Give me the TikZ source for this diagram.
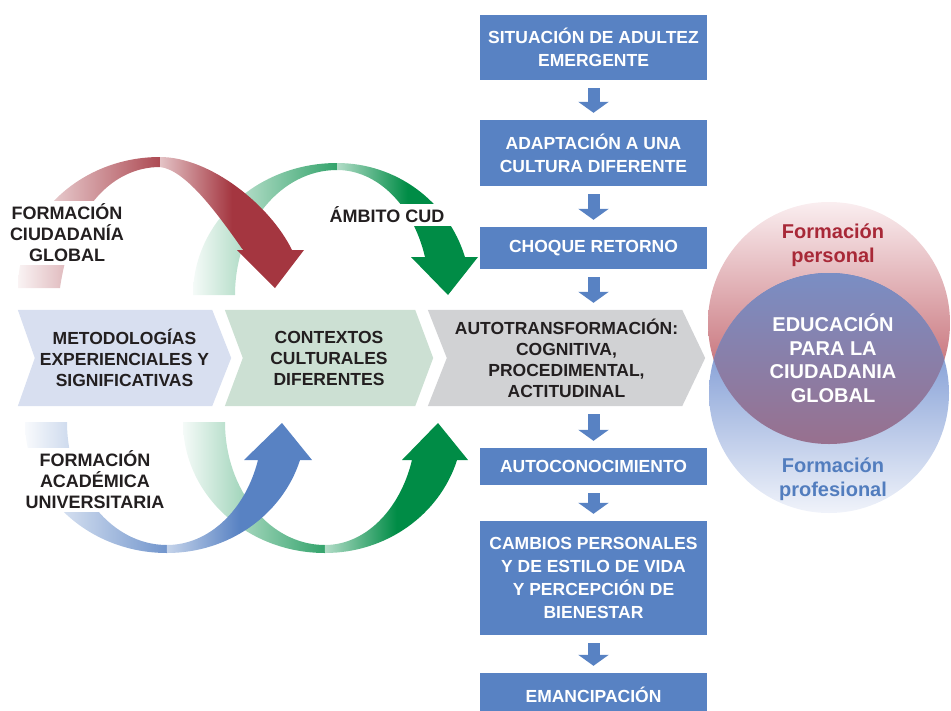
\documentclass[tikz,border=0pt]{standalone}
\usepackage{fontspec}
\setmainfont{Liberation Sans}
\usetikzlibrary{arrows.meta, backgrounds}

\begin{document}
\begin{tikzpicture}[x=1pt,y=-1pt,
  stepbox/.style={fill=boxBlue, text=white, inner sep=0pt, align=center, minimum width=227pt, font=\fontsize{17.5}{23}\selectfont\bfseries},
  chevbox/.style={inner sep=0pt, align=center, minimum height=96pt, text=inkColor, font=\fontsize{17.5}{21}\selectfont\bfseries},
  sidelabel/.style={fill=white, inner sep=3pt, align=center, text=inkColor, font=\fontsize{18}{21}\selectfont\bfseries},
  flowarrow/.style={draw=boxBlue, line width=12pt, -{Triangle[width=30pt,length=11pt]}, shorten <=8pt, shorten >=7pt},
  circlelabel/.style={inner sep=0pt, align=center, font=\fontsize{20}{23.5}\selectfont\bfseries}]
\definecolor{boxBlue}{RGB}{88,130,195}
\definecolor{arcRed}{RGB}{164,54,64}
\definecolor{arcGreen}{RGB}{0,140,70}
\definecolor{arcBlue}{RGB}{88,130,195}
\definecolor{chevBlue}{RGB}{216,223,240}
\definecolor{chevGreen}{RGB}{204,224,211}
\definecolor{chevGrey}{RGB}{209,210,212}
\definecolor{inkColor}{RGB}{35,31,32}
\definecolor{persRed}{RGB}{168,40,55}
\definecolor{profBlue}{RGB}{82,125,190}
\definecolor{persTop}{RGB}{250,238,240}
\definecolor{persBottom}{RGB}{178,62,72}
\definecolor{profTop}{RGB}{83,121,198}
\definecolor{profBottom}{RGB}{240,243,250}
\definecolor{lensTop}{RGB}{122,142,196}
\definecolor{lensBottom}{RGB}{152,112,142}

\useasboundingbox (0,0) rectangle (951,710);

\path[top color=persTop, bottom color=persBottom] (829,323) circle[radius=121];
\path[top color=profTop, bottom color=profBottom] (829,393) circle[radius=120];
\begin{scope}
\clip (829,323) circle[radius=121];
\clip (829,393) circle[radius=120];
\path[top color=lensTop, bottom color=lensBottom] (700,273) rectangle (951,444);
\end{scope}
\node[circlelabel, text=persRed] (pers) at (833,245) {Formación\\personal};
\node[circlelabel, text=white] (edu) at (833,358) {EDUCACIÓN\\PARA LA\\CIUDADANIA\\GLOBAL};
\node[circlelabel, text=profBlue] (prof) at (833,479) {Formación\\profesional};

\path[left color=arcGreen!4, right color=arcGreen!80] (193,295) arc[start angle=180, end angle=270, x radius=144, y radius=132] --
	(337,170) arc[start angle=270, end angle=180, x radius=102, y radius=125] -- cycle;
\path[left color=arcGreen!30, right color=arcGreen, middle color=arcGreen] (337,163) arc[start angle=270, end angle=343.3, x radius=133.6, y radius=132] --
	(478,257) --
	(448,295) --
	(411,257) --
	(425,257) arc[start angle=342.3, end angle=270, x radius=92.3, y radius=125] -- cycle;

\path[left color=arcRed!6, right color=arcRed!90] (18,288) arc[start angle=180, end angle=270, x radius=142, y radius=131] --
	(160,167) .. controls (115,167) and (72,205) .. (60,288) -- cycle;
\path[left color=arcRed!30, right color=arcRed, middle color=arcRed] (160,157) .. controls (210,157) and (270,205) .. (292,250) --
	(304,250) --
	(275,288) --
	(237,250) --
	(243,250) .. controls (215,210) and (185,170) .. (160,167) -- cycle;

\node[sidelabel] (ciud) at (67,233) {FORMACIÓN\\CIUDADANÍA\\GLOBAL};
\node[sidelabel, minimum width=150pt] (ambito) at (387,215) {ÁMBITO CUD};

\path[left color=arcGreen!4, right color=arcGreen!80] (183,422) arc[start angle=180, end angle=90, x radius=142, y radius=131] --
	(325,545) arc[start angle=90, end angle=180, x radius=100, y radius=123] -- cycle;
\path[left color=arcGreen!30, right color=arcGreen, middle color=arcGreen] (325,553) arc[start angle=90, end angle=16.9, x radius=138, y radius=131] --
	(468,460) --
	(438,423) --
	(402,460) --
	(412,460) arc[start angle=18, end angle=90, x radius=91.5, y radius=123] -- cycle;

\path[left color=arcBlue!4, right color=arcBlue!85] (25,422) arc[start angle=180, end angle=90, x radius=142, y radius=131] --
	(167,545) arc[start angle=90, end angle=180, x radius=100, y radius=123] -- cycle;
\path[left color=arcBlue!35, right color=arcBlue, middle color=arcBlue] (167,553) arc[start angle=90, end angle=16.9, x radius=139, y radius=131] --
	(312,460) --
	(282,423) --
	(244,460) --
	(258,460) arc[start angle=18, end angle=90, x radius=95.7, y radius=123] -- cycle;

\node[sidelabel] (acad) at (95,480) {FORMACIÓN\\ACADÉMICA\\UNIVERSITARIA};

\node[chevbox, minimum width=213pt] (metod) at (124.5,358) {METODOLOGÍAS\\EXPERIENCIALES Y\\SIGNIFICATIVAS};
\node[chevbox, minimum width=208pt] (contx) at (329,358) {CONTEXTOS\\CULTURALES\\DIFERENTES};
\node[chevbox, minimum width=277pt] (auto) at (566.5,358) {AUTOTRANSFORMACIÓN:\\COGNITIVA,\\PROCEDIMENTAL,\\ACTITUDINAL};
\begin{scope}[on background layer]
\path[fill=chevBlue] (metod.north west) -- ([xshift=-19pt]metod.north east) -- (metod.east) --
	([xshift=-19pt]metod.south east) -- (metod.south west) -- ([xshift=17pt]metod.west) -- cycle;
\path[fill=chevGreen] (contx.north west) -- ([xshift=-18pt]contx.north east) -- (contx.east) --
	([xshift=-18pt]contx.south east) -- (contx.south west) -- ([xshift=18pt]contx.west) -- cycle;
\path[fill=chevGrey] (auto.north west) -- ([xshift=-23pt]auto.north east) -- (auto.east) --
	([xshift=-23pt]auto.south east) -- (auto.south west) -- ([xshift=19pt]auto.west) -- cycle;
\end{scope}

\node[stepbox, minimum height=65pt] (sit) at (593.5,47.5) {SITUACIÓN DE ADULTEZ\\EMERGENTE};
\node[stepbox, minimum height=66pt] (adapt) at (593.5,153) {ADAPTACIÓN A UNA\\CULTURA DIFERENTE};
\node[stepbox, minimum height=42pt] (choque) at (593.5,248) {CHOQUE RETORNO};
\node[stepbox, minimum height=37pt] (autocon) at (593.5,466.5) {AUTOCONOCIMIENTO};
\node[stepbox, minimum height=114pt] (cambios) at (593.5,578) {CAMBIOS PERSONALES\\Y DE ESTILO DE VIDA\\Y PERCEPCIÓN DE\\BIENESTAR};
\node[stepbox, minimum height=44pt] (eman) at (593.5,695) {EMANCIPACIÓN};

\draw[flowarrow] (sit.south) -- (adapt.north);
\draw[flowarrow] (adapt.south) -- (choque.north);
\draw[flowarrow] (choque.south) -- (choque.south |- auto.north);
\draw[flowarrow] (autocon.north |- auto.south) -- (autocon.north);
\draw[flowarrow] (autocon.south) -- (cambios.north);
\draw[flowarrow] (cambios.south) -- (eman.north);
\end{tikzpicture}
\end{document}
